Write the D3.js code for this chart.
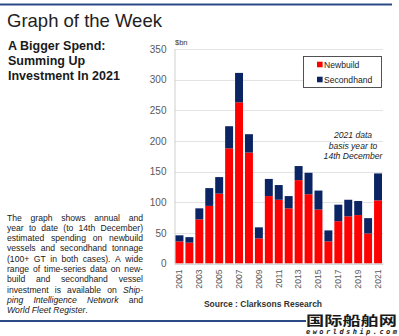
<!DOCTYPE html>
<html>
<head>
<meta charset="utf-8">
<script src="https://cdn.jsdelivr.net/npm/d3@7"></script>
<style>
  html, body { margin: 0; padding: 0; background: #fff; }
  svg { display: block; font-family: "Liberation Sans", Arial, Helvetica, sans-serif; }
</style>
</head>
<body>
<svg id="chart" width="399" height="336"></svg>
<script>
// Annual ship investment, $bn (2021 = year to 14th December)
const years = ["2001","2002","2003","2004","2005","2006","2007","2008","2009","2010","2011",
               "2012","2013","2014","2015","2016","2017","2018","2019","2020","2021"];
const newbuild   = [36, 34, 72, 94, 114, 188, 263, 181, 41, 110, 104, 90, 136, 113, 88, 36, 69, 77, 79, 49, 103];
const secondhand = [10,  9, 18, 29,  27,  36,  48,  30, 18,  28,  24, 20,  23,  35, 31, 18, 27, 27, 23, 25,  44];
const seriesNames = ["Newbuild", "Secondhand"];
const seriesColors = ["#ff0000", "#0b2463"];
const yTicks = [0, 50, 100, 150, 200, 250, 300, 350];
const xTickLabels = ["2001","2003","2005","2007","2009","2011","2013","2015","2017","2019","2021"];

const svg = d3.select("#chart");
const navy = "#2c4a86";

// page rules
svg.append("line").attr("x1", 0).attr("x2", 392).attr("y1", 4.5).attr("y2", 4.5)
  .attr("stroke", navy).attr("stroke-width", 1.8);
svg.append("line").attr("x1", 0).attr("x2", 306).attr("y1", 321).attr("y2", 321)
  .attr("stroke", navy).attr("stroke-width", 1.8);

// headings
svg.append("text").attr("x", 7).attr("y", 26.5).attr("font-size", 18.5).attr("fill", "#222")
  .text("Graph of the Week");
const sub = ["A Bigger Spend:", "Summing Up", "Investment In 2021"];
svg.append("g").selectAll("text").data(sub).join("text")
  .attr("x", 8).attr("y", (d, i) => 49.5 + i * 15.3)
  .attr("font-size", 12.5).attr("font-weight", "bold").attr("fill", "#1a1a1a")
  .text(d => d);

// justified description paragraph
const para = [
  [["The graph shows annual and", 0]],
  [["year to date (to 14th December)", 0]],
  [["estimated spending on newbuild", 0]],
  [["vessels and secondhand tonnage", 0]],
  [["(100+ GT in both cases). A wide", 0]],
  [["range of time-series data on new-", 0]],
  [["build and secondhand vessel", 0]],
  [["investment is available on", 0], ["Ship-", 1]],
  [["ping Intelligence Network", 1], ["and", 0]],
  [["World Fleet Register", 1], [".", 0]]
];
const pLeft = 7, pRight = 143, pTop = 220.5, pLead = 10.3, pSize = 8.6;
const pg = svg.append("g").attr("font-size", pSize).attr("fill", "#1a1a1a");
para.forEach((segs, li) => {
  const y = pTop + li * pLead;
  const words = [];
  segs.forEach(([s, it]) => s.split(" ").forEach(w => words.push({ w, it })));
  const nodes = words.map(o => pg.append("text").attr("y", y)
    .attr("font-style", o.it ? "italic" : "normal").text(o.w));
  const widths = nodes.map(n => n.node().getComputedTextLength());
  const last = li === para.length - 1;
  let x = pLeft;
  const total = d3.sum(widths);
  const gap = last ? pSize * 0.278 : (pRight - pLeft - total) / (words.length - 1);
  nodes.forEach((n, i) => {
    // the trailing full stop sits right after the italic title
    if (last && words[i].w === ".") x -= gap;
    n.attr("x", x);
    x += widths[i] + gap;
  });
});

// plot scales
const x = d3.scaleBand().domain(years).range([174.5, 383]).paddingInner(0.2).paddingOuter(0.1);
const y = d3.scaleLinear().domain([0, 350]).range([263.5, 49]);

// gridlines
svg.append("g").selectAll("line").data(yTicks).join("line")
  .attr("x1", 174.5).attr("x2", 383)
  .attr("y1", d => Math.round(y(d)) + 0.5).attr("y2", d => Math.round(y(d)) + 0.5)
  .attr("stroke", "#e3e3e3").attr("stroke-width", 1);

// y axis
const yAxis = svg.append("g").attr("transform", "translate(174.5,0)")
  .call(d3.axisLeft(y).tickValues(yTicks).tickSize(0).tickPadding(8));
yAxis.select(".domain").attr("stroke", "#d0d0d0");
yAxis.selectAll("text").attr("font-size", 10).attr("fill", "#595959")
  .attr("font-family", "'Liberation Sans', Arial, sans-serif");
svg.append("text").attr("x", 175).attr("y", 45).attr("font-size", 7.5).attr("fill", "#333").text("$bn");

// stacked bars
const rows = years.map((yr, i) => ({ year: yr, Newbuild: newbuild[i], Secondhand: secondhand[i] }));
const stacked = d3.stack().keys(seriesNames)(rows);
svg.append("g").selectAll("g").data(stacked).join("g")
  .attr("fill", (d, i) => seriesColors[i])
  .selectAll("rect").data(d => d).join("rect")
  .attr("x", d => x(d.data.year))
  .attr("width", x.bandwidth())
  .attr("y", d => y(d[1]))
  .attr("height", d => y(d[0]) - y(d[1]));

// x axis (odd years, rotated)
const xAxis = svg.append("g").attr("transform", "translate(0,263.5)")
  .call(d3.axisBottom(x).tickValues(xTickLabels).tickSize(0).tickPadding(0));
xAxis.select(".domain").attr("stroke", "#d0d0d0");
xAxis.selectAll("text")
  .attr("font-size", 8.6).attr("fill", "#595959")
  .attr("font-family", "'Liberation Sans', Arial, sans-serif")
  .attr("transform", "rotate(-90)")
  .attr("text-anchor", "end")
  .attr("x", -6).attr("y", 0).attr("dy", "0.33em");

// legend
const lg = svg.append("g");
lg.append("rect").attr("x", 303.5).attr("y", 56.5).attr("width", 78).attr("height", 31)
  .attr("fill", "#fff").attr("stroke", "#404040").attr("stroke-width", 0.9);
seriesNames.forEach((name, i) => {
  const cy = 64.5 + i * 15;
  lg.append("rect").attr("x", 317).attr("y", cy - 2.8).attr("width", 5.6).attr("height", 5.6)
    .attr("fill", seriesColors[i]);
  lg.append("text").attr("x", 324).attr("y", cy + 3).attr("font-size", 8.6).attr("fill", "#222").text(name);
});

// note on the partial year
const note = ["2021 data", "basis year to", "14th December"];
svg.append("g").selectAll("text").data(note).join("text")
  .attr("x", 353).attr("y", (d, i) => 138 + i * 10.5)
  .attr("text-anchor", "middle").attr("font-size", 8.6).attr("font-style", "italic").attr("fill", "#222")
  .text(d => d);

// source
svg.append("text").attr("x", 263).attr("y", 307).attr("text-anchor", "middle")
  .attr("font-size", 8.5).attr("font-weight", "bold").attr("fill", "#333")
  .text("Source : Clarksons Research");

// site mark
svg.append("text").attr("x", 306).attr("y", 325)
  .attr("font-family", "'Noto Sans CJK SC', sans-serif").attr("font-weight", "bold")
  .attr("font-size", 13).attr("fill", "#1a1a1a")
  .attr("textLength", 91).attr("lengthAdjust", "spacingAndGlyphs")
  .text("国际船舶网");
svg.append("text").attr("x", 306).attr("y", 334)
  .attr("font-family", "'DejaVu Sans Mono', monospace").attr("font-weight", "bold").attr("font-style", "italic")
  .attr("font-size", 7).attr("fill", "#1a1a1a")
  .attr("textLength", 91).attr("lengthAdjust", "spacing")
  .text("eworldship.com");
</script>
</body>
</html>
